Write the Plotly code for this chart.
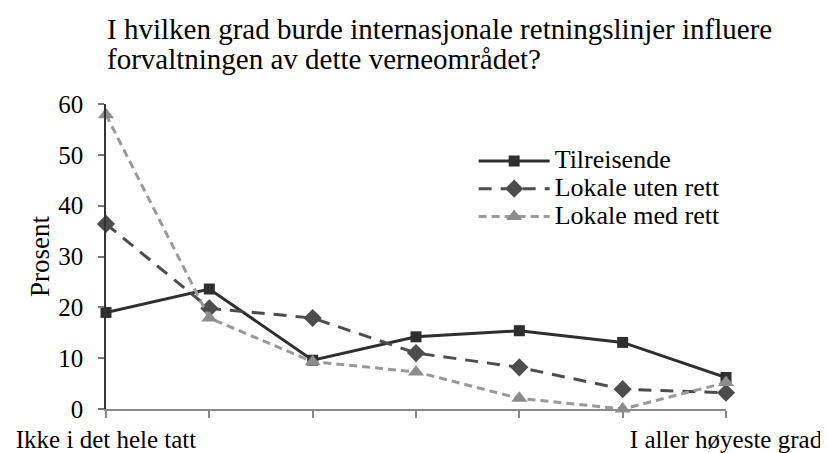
import plotly.graph_objects as go

categories = [1, 2, 3, 4, 5, 6, 7]
tick_labels = ["Ikke i det hele tatt", "", "", "", "", "", "I aller høyeste grad"]
series_names = ["Tilreisende", "Lokale uten rett", "Lokale med rett"]
tilreisende = [19.0, 23.6, 9.6, 14.2, 15.4, 13.1, 6.2]
lokale_uten = [36.4, 19.8, 17.9, 11.0, 8.2, 3.9, 3.2]
lokale_med = [57.9, 17.9, 9.3, 7.3, 2.1, 0.0, 5.2]
y_ticks = [0, 10, 20, 30, 40, 50, 60]

FONT = "Liberation Serif, Times New Roman, serif"


def big(name):
    return '<span style="font-size:26px">' + name + "</span>"


fig = go.Figure()
fig.add_trace(go.Scatter(
    x=categories, y=tilreisende, name=big(series_names[0]), mode="lines+markers",
    line=dict(color="#2f2f2f", width=3),
    marker=dict(symbol="square", size=11, color="#2f2f2f"),
    cliponaxis=False))
fig.add_trace(go.Scatter(
    x=categories, y=lokale_uten, name=big(series_names[1]), mode="lines+markers",
    line=dict(color="#4d4d4d", width=3, dash="13px,9px"),
    marker=dict(symbol="diamond", size=14, color="#4d4d4d"),
    cliponaxis=False))
fig.add_trace(go.Scatter(
    x=categories, y=lokale_med, name=big(series_names[2]), mode="lines+markers",
    line=dict(color="#9a9a9a", width=3, dash="8px,5px"),
    marker=dict(symbol="triangle-up", size=14, color="#8c8c8c"),
    cliponaxis=False))

fig.update_layout(
    width=820, height=445,
    paper_bgcolor="white", plot_bgcolor="white",
    margin=dict(l=98, r=102, t=96, b=44, autoexpand=False),
    font=dict(family=FONT, size=26, color="black"),
    showlegend=True,
    legend=dict(x=0.593, y=0.875, xanchor="left", yanchor="top",
                bgcolor="rgba(0,0,0,0)", font=dict(size=19, family=FONT, color="black"),
                tracegroupgap=0, itemwidth=71),
    annotations=[
        dict(text="I hvilken grad burde internasjonale retningslinjer influere",
             xref="paper", yref="paper", x=0.0, y=1.0, xanchor="left", yanchor="middle",
             yshift=75, xshift=-1, showarrow=False,
             font=dict(size=29, family=FONT, color="black")),
        dict(text="forvaltningen av dette verneområdet?",
             xref="paper", yref="paper", x=0.0, y=1.0, xanchor="left", yanchor="middle",
             yshift=45, xshift=-1, showarrow=False,
             font=dict(size=29, family=FONT, color="black")),
    ],
)
fig.update_xaxes(
    range=[1, 7], tickmode="array", tickvals=categories, ticktext=tick_labels,
    showgrid=False, zeroline=False, showline=True, linecolor="#8a8a8a", linewidth=1.5,
    ticks="outside", ticklen=7, tickcolor="#8a8a8a", tickwidth=1.5,
    tickfont=dict(size=25, family=FONT), automargin=False)
fig.update_yaxes(
    range=[0, 60], tickmode="array", tickvals=y_ticks,
    showgrid=False, zeroline=False, showline=True, linecolor="#333333", linewidth=1.5,
    ticks="outside", ticklen=6, tickcolor="#777777", tickwidth=1.5,
    ticklabelstandoff=10,
    tickfont=dict(size=25, family=FONT), automargin=False,
    title=dict(text="Prosent", standoff=1, font=dict(size=27, family=FONT)))

fig.write_html("out.html")
